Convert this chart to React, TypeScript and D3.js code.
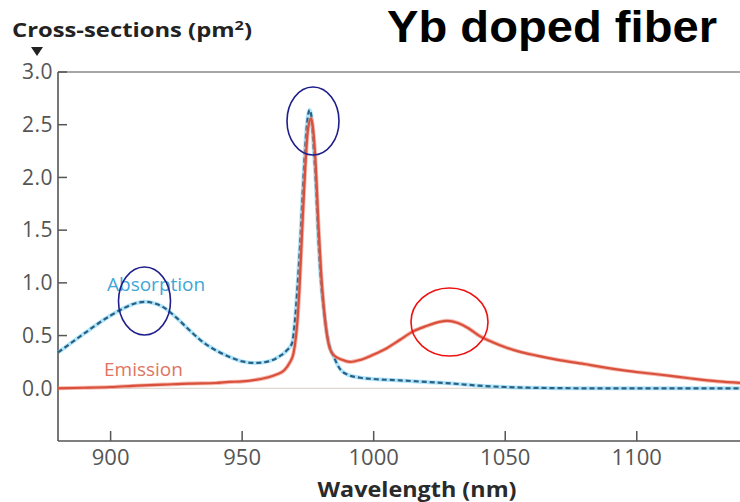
import React from "react";
import * as d3 from "d3";

const xTicks = [900, 950, 1000, 1050, 1100];
const yTicks = [0, 0.5, 1.0, 1.5, 2.0, 2.5, 3.0];

const absWl = [880, 885, 890, 895, 900, 905, 910, 913, 916, 920, 925, 930, 935, 940, 945, 950, 955, 960, 964, 967, 969, 970, 971, 972, 973, 974, 975, 975.6, 976.2, 977, 978, 979, 980, 981, 982, 983, 985, 987, 990, 995, 1000, 1010, 1020, 1030, 1040, 1050, 1060, 1080, 1140];
const absVal = [0.34, 0.43, 0.52, 0.61, 0.69, 0.76, 0.81, 0.82, 0.81, 0.77, 0.67, 0.55, 0.44, 0.36, 0.30, 0.255, 0.24, 0.255, 0.30, 0.36, 0.43, 0.62, 0.95, 1.35, 1.85, 2.3, 2.58, 2.64, 2.6, 2.35, 1.95, 1.4, 1.0, 0.75, 0.55, 0.42, 0.29, 0.19, 0.13, 0.10, 0.088, 0.075, 0.06, 0.045, 0.025, 0.012, 0.005, 0.0, 0.0];

const emWl = [880, 890, 900, 910, 920, 930, 940, 945, 950, 955, 960, 963, 966, 968, 969.5, 970.5, 971.2, 971.8, 973, 974, 975, 976.2, 977, 978, 979, 980, 981, 982, 983.3, 985, 988, 991, 995, 1000, 1005, 1010, 1015, 1020, 1025, 1028, 1032, 1036, 1040, 1045, 1050, 1055, 1062, 1070, 1080, 1087, 1095, 1105, 1112, 1120, 1131, 1140];
const emVal = [0.0, 0.005, 0.012, 0.025, 0.035, 0.045, 0.05, 0.06, 0.065, 0.08, 0.105, 0.13, 0.17, 0.24, 0.33, 0.5, 0.7, 0.95, 1.6, 2.1, 2.45, 2.56, 2.45, 2.1, 1.55, 1.1, 0.78, 0.55, 0.38, 0.31, 0.27, 0.25, 0.27, 0.32, 0.38, 0.46, 0.54, 0.59, 0.63, 0.64, 0.62, 0.57, 0.5, 0.44, 0.39, 0.35, 0.31, 0.27, 0.23, 0.2, 0.17, 0.14, 0.12, 0.095, 0.065, 0.05];

const W = 740;
const H = 502;

export default function App() {
  const x = d3.scaleLinear().domain([880, 1140]).range([58, 742]);
  const y = d3.scaleLinear().domain([-0.5, 3.0]).range([441, 72]);
  const line = d3
    .line<[number, number]>()
    .x((d) => x(d[0]))
    .y((d) => y(d[1]))
    .curve(d3.curveMonotoneX);
  const absPts = absWl.map((w, i) => [w, absVal[i]] as [number, number]);
  const emPts = emWl.map((w, i) => [w, emVal[i]] as [number, number]);
  const sans = "'Open Sans', 'Noto Sans', sans-serif";

  return (
    <svg width={W} height={H} style={{ position: "absolute", left: 0, top: 0, background: "#fff" }}>
      {/* frame */}
      <line x1={58} x2={W} y1={72} y2={72} stroke="#8a8a8a" strokeWidth={1.5} />
      <line x1={58} x2={W} y1={y(0)} y2={y(0)} stroke="#d8cfc8" strokeWidth={1} />
      <line x1={58} x2={58} y1={72} y2={441} stroke="#555" strokeWidth={1.6} />
      <line x1={58} x2={W} y1={441} y2={441} stroke="#555" strokeWidth={1.6} />
      {yTicks.map((t) => (
        <g key={"y" + t}>
          <line x1={58} x2={67} y1={y(t)} y2={y(t)} stroke="#555" strokeWidth={1.5} />
          <text x={53} y={y(t)} dy="0.35em" textAnchor="end" fontFamily={sans} fontSize={21} letterSpacing={0.5} fill="#555">
            {t.toFixed(1)}
          </text>
        </g>
      ))}
      {xTicks.map((t) => (
        <g key={"x" + t}>
          <line x1={x(t)} x2={x(t)} y1={441} y2={431} stroke="#555" strokeWidth={1.5} />
          <text x={x(t)} y={465} textAnchor="middle" fontFamily={sans} fontSize={22} fill="#555">
            {t}
          </text>
        </g>
      ))}
      {/* curves */}
      <path d={line(absPts) || ""} fill="none" stroke="#6cd0f2" strokeWidth={4} strokeOpacity={0.55} />
      <path d={line(absPts) || ""} fill="none" stroke="#2c5f86" strokeWidth={2.2} strokeDasharray="5,3" />
      <path d={line(emPts) || ""} fill="none" stroke="#f08a78" strokeWidth={4} strokeOpacity={0.6} />
      <path d={line(emPts) || ""} fill="none" stroke="#d9503c" strokeWidth={2.2} />
      {/* series labels */}
      <text x={107} y={291} fontFamily={sans} fontSize={19} fill="#3fa6d6">Absorption</text>
      <text x={104} y={376} fontFamily={sans} fontSize={19} fill="#e0735f">Emission</text>
      {/* annotations */}
      <ellipse cx={313} cy={121} rx={26} ry={34} fill="none" stroke="#1e1e8c" strokeWidth={1.6} />
      <ellipse cx={144.5} cy={301} rx={26} ry={34} fill="none" stroke="#1e1e8c" strokeWidth={1.6} />
      <ellipse cx={449.5} cy={322} rx={38.5} ry={34} fill="none" stroke="#ee1111" strokeWidth={1.6} />
      {/* titles */}
      <text x={12} y={37} fontFamily={sans} fontWeight="bold" fontSize={19} fill="#222" textLength={240} lengthAdjust="spacingAndGlyphs">
        Cross-sections (pm<tspan fontSize={13} dy={-7}>2</tspan><tspan dy={7}>)</tspan>
      </text>
      <path d="M31,47 L43,47 L37,56 Z" fill="#222" />
      <text x={387} y={42} fontFamily="'Liberation Sans', Arial, Helvetica, sans-serif" fontWeight="bold" fontSize={44} fill="#000" textLength={330} lengthAdjust="spacingAndGlyphs">
        Yb doped fiber
      </text>
      <text x={417} y={497} textAnchor="middle" fontFamily={sans} fontWeight="bold" fontSize={21} fill="#2a2a2a" textLength={199} lengthAdjust="spacingAndGlyphs">
        Wavelength (nm)
      </text>
    </svg>
  );
}
